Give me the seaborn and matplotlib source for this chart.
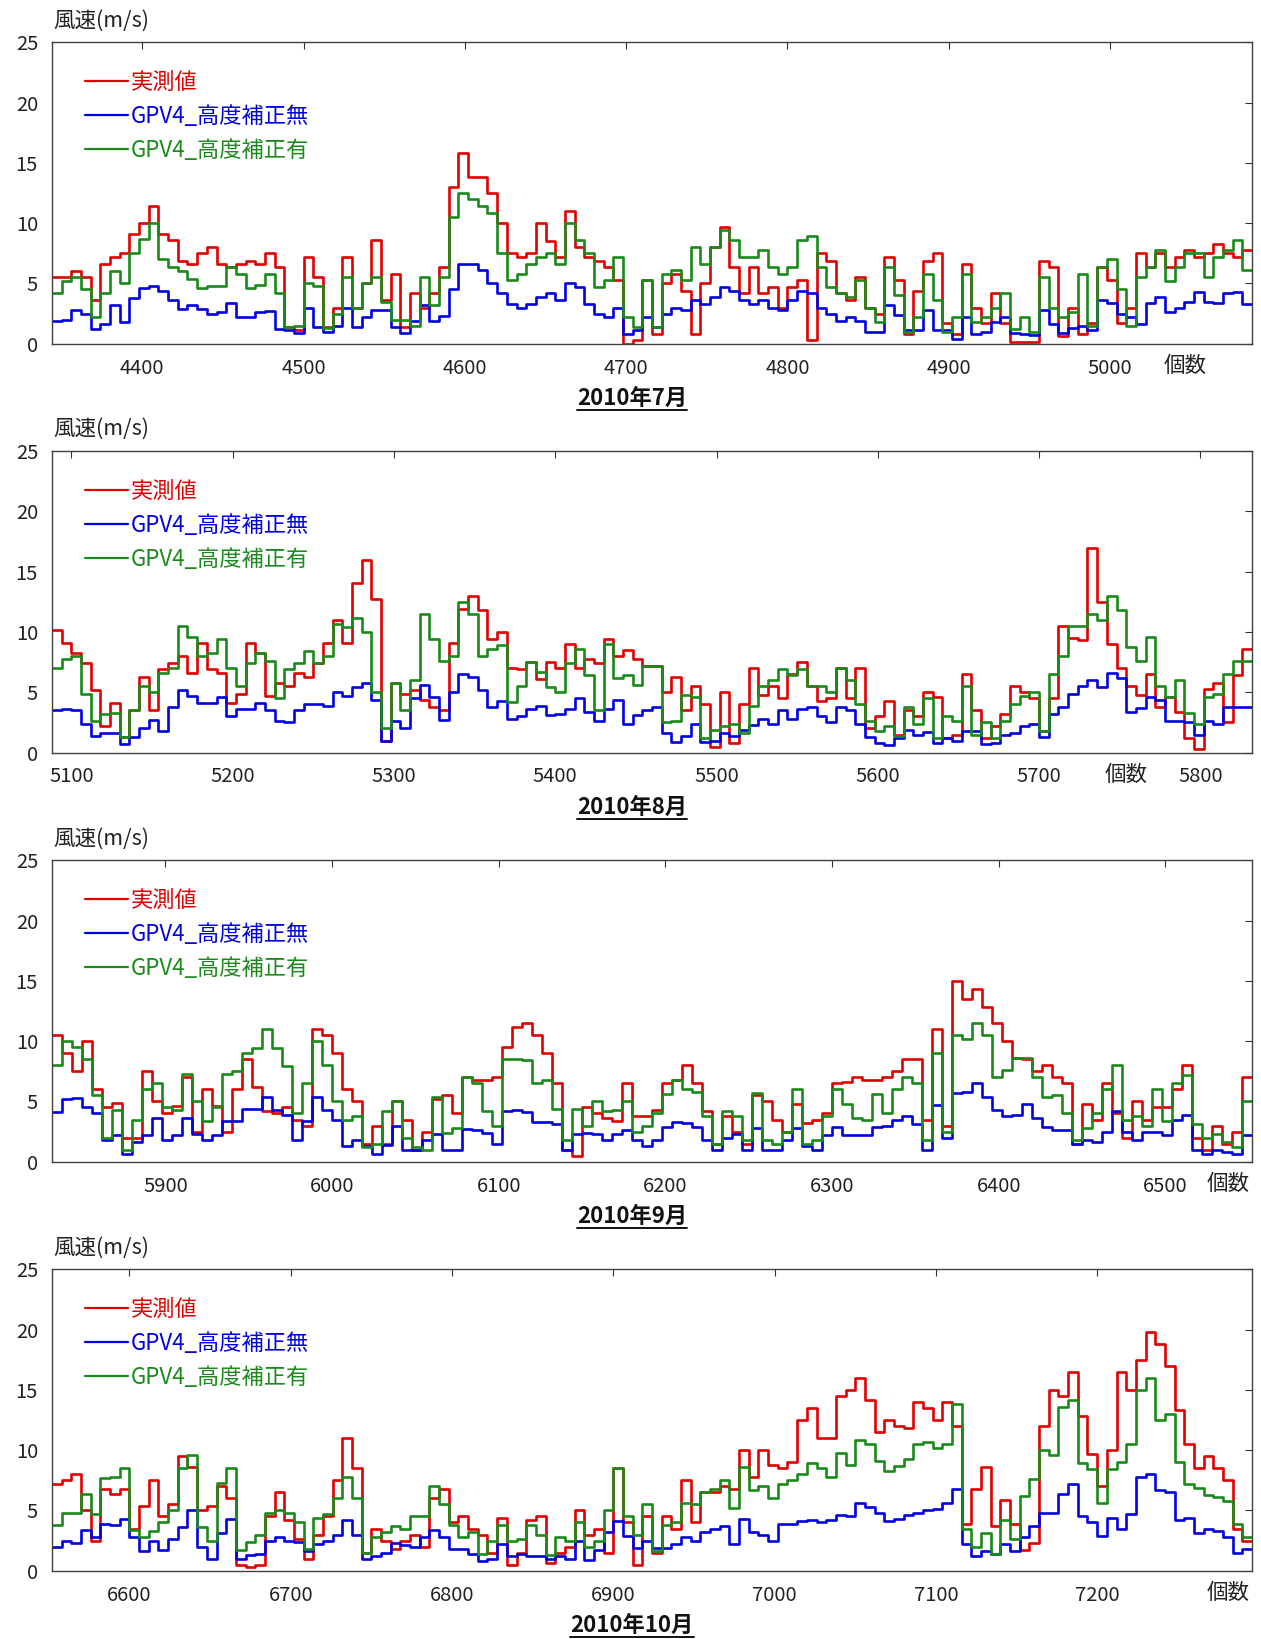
import numpy as np
import pandas as pd
import matplotlib
matplotlib.use("Agg")
import matplotlib.pyplot as plt
from matplotlib.lines import Line2D
import seaborn as sns

# ---------------------------------------------------------------------------
# Wind speed (m/s) sampled every 6 hours; x axis is the running hour index.
# ---------------------------------------------------------------------------
STEP = 6

series_names = ["実測値", "GPV4_高度補正無", "GPV4_高度補正有"]
series_colors = ["#e00000", "#0000e0", "#1a8a1a"]

month_labels = ["2010年7月", "2010年8月", "2010年9月", "2010年10月"]
month_start = [4344, 5088, 5832, 6552]
month_hours = [744, 744, 720, 744]

x_ticks = [
    [4400, 4500, 4600, 4700, 4800, 4900, 5000],
    [5100, 5200, 5300, 5400, 5500, 5600, 5700, 5800],
    [5900, 6000, 6100, 6200, 6300, 6400, 6500],
    [6600, 6700, 6800, 6900, 7000, 7100, 7200],
]
y_ticks = [0, 5, 10, 15, 20, 25]
count_label_pos = [0.944, 0.895, 0.98, 0.98]   # "個数" position, axes fraction

# --- July ---
jul_obs = [
    5.5, 5.5, 6.0, 5.5, 3.6, 6.6, 7.2, 7.5, 9.1, 10.0,
    11.4, 9.1, 8.6, 6.9, 6.6, 7.5, 8.0, 6.6, 6.4, 6.6,
    6.9, 6.6, 7.5, 6.4, 1.4, 1.1, 7.2, 5.5, 1.4, 3.0,
    7.2, 3.0, 5.0, 8.6, 3.6, 5.8, 1.4, 4.2, 3.0, 4.2,
    6.4, 13.0, 15.8,
    13.8, 13.8, 12.5, 10.0, 7.5, 7.2, 7.5, 10.0, 8.5, 7.2,
    11.0, 8.0, 7.2, 6.9, 6.4, 5.3, 0.0, 0.3, 5.3, 0.8,
    5.0, 5.8, 4.4, 0.8, 5.0, 8.0, 9.7, 6.4, 4.2, 6.4,
    4.2, 4.7, 3.0, 4.7, 5.3, 0.3, 7.5, 6.9, 4.2, 3.6,
    5.5,
    3.0, 2.5, 7.2, 5.3, 0.8, 4.4, 6.9, 7.5, 1.7, 0.8,
    6.6, 3.0, 1.7, 4.2, 1.7, 0.1, 0.1, 0.1, 6.9, 6.4,
    0.6, 3.0, 0.8, 1.7, 6.4, 5.3, 1.7, 3.0, 7.5, 6.4,
    7.5, 6.4, 7.2, 7.8, 7.2, 7.5, 8.3, 7.5, 7.2, 7.8,
]
jul_raw = [
    1.9, 2.0, 2.8, 2.5, 1.2, 1.6, 3.2, 1.8, 3.8, 4.6,
    4.8, 4.4, 3.6, 2.9, 3.2, 2.9, 2.5, 2.6, 3.4, 2.2,
    2.2, 2.6, 2.7, 1.2, 1.1, 0.9, 3.0, 1.4, 1.0, 1.5,
    3.0, 1.4, 2.2, 2.8, 2.8, 1.4, 0.9, 1.9, 3.2, 1.9,
    2.3, 4.5, 6.6,
    6.6, 6.1, 5.0, 4.2, 3.3, 3.0, 3.3, 3.9, 4.2, 3.6,
    5.0, 4.7, 3.3, 2.5, 2.2, 3.0, 0.8, 1.1, 2.2, 1.4,
    2.5, 3.0, 2.8, 3.6, 3.3, 3.9, 4.7, 4.4, 3.6, 3.3,
    3.6, 3.0, 2.8, 3.6, 4.4, 4.2, 3.0, 2.5, 1.9, 2.2,
    1.9,
    1.0, 1.0, 3.2, 2.4, 1.1, 1.1, 2.8, 1.1, 1.1, 0.4,
    2.2, 0.8, 1.0, 1.8, 2.2, 0.9, 0.8, 0.7, 2.8, 1.6,
    0.9, 1.3, 1.5, 1.1, 3.6, 3.4, 2.5, 2.2, 1.6, 3.4,
    3.9, 2.6, 3.0, 3.5, 4.3, 3.5, 3.4, 4.2, 4.3, 3.3,
]
jul_adj = [
    4.2, 5.2, 5.5, 4.5, 2.2, 4.2, 6.0, 5.0, 7.5, 8.7,
    10.0, 7.0, 6.4, 6.0, 5.4, 4.6, 4.8, 4.8, 6.4, 5.8,
    4.6, 4.9, 5.8, 4.2, 1.4, 1.5, 5.0, 4.8, 1.3, 2.5,
    5.5, 3.0, 5.0, 5.5, 3.5, 2.0, 2.0, 1.5, 5.5, 3.2,
    5.5, 10.5, 12.5,
    12.0, 11.4, 10.8, 7.5, 5.3, 5.8, 6.6, 7.2, 7.5, 6.6,
    10.0, 8.6, 7.5, 4.7, 5.3, 7.2, 2.2, 1.4, 5.3, 1.4,
    5.8, 6.1, 5.3, 8.0, 6.6, 8.0, 9.4, 8.6, 7.2, 7.2,
    7.8, 6.4, 5.8, 6.4, 8.6, 8.9, 6.4, 4.7, 4.2, 3.9,
    5.3,
    3.0, 1.8, 6.4, 4.0, 1.0, 2.2, 5.8, 3.6, 1.0, 2.2,
    5.8, 1.8, 2.2, 3.0, 4.2, 1.2, 2.2, 1.0, 5.5, 3.0,
    2.2, 2.6, 5.8, 1.5, 6.4, 7.0, 4.5, 1.5, 5.5, 6.4,
    7.8, 5.2, 6.4, 7.5, 7.5, 5.5, 7.2, 7.8, 8.6, 6.1,
]

# --- August ---
aug_obs = [
    10.2, 9.1, 8.3, 7.4, 5.2, 2.2, 4.1, 1.3, 3.5, 6.3,
    3.5, 6.9, 7.4, 8.0, 6.6, 9.1, 6.9, 6.6, 4.1, 4.9,
    9.1, 8.3, 4.7, 5.8, 5.5, 6.6, 6.3, 7.4, 9.1, 11.0,
    9.1, 14.1, 16.0, 12.7, 1.0, 5.8, 4.9, 5.2, 4.4, 3.8,
    3.5, 9.1, 11.9,
    13.0, 11.8, 9.4, 10.0, 7.0, 6.9, 7.5, 6.1, 7.5, 7.0,
    9.0, 7.0, 7.8, 7.4, 9.4, 8.0, 8.5, 7.8, 7.2, 7.2,
    5.0, 6.3, 3.5, 5.5, 4.0, 0.5, 5.0, 0.8, 4.0, 7.0,
    4.8, 5.5, 4.5, 6.5, 7.5, 5.5, 4.3, 4.5, 7.0, 4.5,
    7.0,
    2.0, 3.0, 4.3, 1.5, 3.5, 3.0, 5.0, 4.6, 1.2, 1.5,
    6.5, 3.5, 1.2, 2.2, 3.2, 5.5, 5.0, 4.5, 1.8, 4.5,
    10.5, 9.5, 9.3, 17.0, 12.5, 9.0, 7.0, 5.5, 4.8, 6.5,
    3.8, 4.6, 3.4, 1.2, 0.3, 5.3, 5.8, 2.5, 6.4, 8.6,
]
aug_raw = [
    3.5, 3.6, 3.5, 2.4, 1.4, 1.6, 1.6, 0.7, 1.3, 2.0,
    2.7, 1.8, 3.8, 5.2, 4.7, 4.1, 4.1, 4.6, 3.0, 3.6,
    3.6, 4.1, 3.5, 2.6, 2.5, 3.5, 4.0, 4.0, 3.9, 5.0,
    4.7, 5.4, 5.8, 4.4, 1.0, 2.6, 2.0, 4.5, 5.6, 4.6,
    2.7, 5.0, 6.5,
    6.3, 5.2, 3.8, 4.3, 2.8, 3.0, 3.6, 3.9, 3.1, 3.2,
    3.6, 4.5, 3.4, 2.6, 3.6, 4.4, 2.4, 3.1, 3.5, 3.8,
    1.6, 0.9, 1.4, 2.4, 0.9, 1.0, 1.6, 1.4, 1.9, 2.3,
    2.8, 2.4, 3.5, 2.8, 3.6, 3.8, 3.0, 2.5, 3.8, 3.5,
    2.4,
    1.3, 0.8, 0.6, 1.2, 1.9, 1.5, 1.7, 0.8, 1.2, 1.0,
    1.8, 1.8, 0.7, 0.8, 1.5, 1.6, 2.2, 2.4, 1.3, 3.2,
    3.8, 4.9, 5.5, 6.0, 5.4, 6.6, 6.2, 3.4, 3.7, 4.6,
    4.4, 2.6, 2.6, 2.5, 1.5, 2.6, 2.4, 3.8, 3.8, 3.8,
]
aug_adj = [
    7.0, 7.8, 8.0, 4.9, 2.6, 3.2, 3.3, 1.3, 3.5, 5.5,
    5.0, 6.6, 7.0, 10.5, 9.6, 8.0, 8.3, 9.4, 7.0, 5.5,
    7.4, 8.3, 7.6, 4.5, 6.9, 7.4, 8.4, 7.4, 8.0, 10.7,
    10.4, 11.2, 10.0, 5.0, 2.0, 5.8, 3.5, 6.0, 11.5, 9.4,
    7.6, 8.0, 12.5,
    11.5, 8.0, 8.6, 8.9, 4.2, 5.5, 7.5, 6.7, 5.4, 5.0,
    7.4, 8.6, 6.4, 3.5, 9.0, 6.2, 6.4, 5.6, 7.2, 7.2,
    2.5, 2.6, 4.8, 4.6, 1.2, 1.9, 2.2, 2.4, 1.6, 3.9,
    5.5, 6.0, 6.9, 6.4, 6.9, 5.5, 5.5, 5.0, 7.0, 6.0,
    4.0,
    2.6, 1.8, 2.2, 1.4, 3.8, 2.4, 4.5, 1.2, 3.0, 2.6,
    5.5, 1.5, 2.5, 1.2, 2.6, 4.0, 4.7, 5.0, 1.8, 6.5,
    8.0, 10.5, 10.5, 11.5, 11.0, 13.0, 11.8, 8.8, 7.6, 9.6,
    5.5, 4.6, 6.0, 3.3, 2.4, 4.6, 4.9, 6.5, 7.6, 7.6,
]

# --- September ---
sep_obs = [
    10.5, 9.0, 7.5, 10.0, 6.0, 4.5, 4.9, 2.0, 2.0, 7.5,
    5.0, 4.0, 4.6, 7.0, 2.5, 6.0, 4.6, 2.5, 6.0, 8.5,
    6.2, 4.2, 4.0, 4.5, 3.5, 3.0, 11.0, 10.5, 9.0, 6.0,
    5.0, 1.5, 3.0, 1.5, 5.0, 3.5, 1.0, 2.5, 5.2, 5.5,
    4.0, 7.0,
    6.8, 6.8, 7.0, 9.5, 11.2, 11.5, 10.5, 9.0, 6.5, 1.0,
    0.5, 4.5, 4.0, 3.6, 3.4, 6.5, 3.8, 3.8, 4.3, 6.5,
    6.8, 8.0, 6.5, 4.2, 1.5, 3.8, 2.5, 1.5, 5.5, 5.0,
    3.5, 2.5, 4.8, 3.2, 3.5, 4.0, 6.5, 6.6, 7.0,
    6.8, 6.8, 7.0, 7.5, 8.5, 8.5, 3.5, 11.0, 3.0, 15.0,
    13.5, 14.3, 12.8, 11.5, 10.0, 8.6, 8.5, 7.5, 8.0, 7.0,
    6.5, 1.5, 4.8, 3.5, 6.5, 4.0, 2.0, 5.0, 3.5, 4.5,
    4.5, 6.0, 8.0, 2.0, 1.0, 3.0, 1.5, 2.5, 7.0,
]
sep_raw = [
    4.1, 5.2, 5.3, 4.5, 4.0, 1.8, 2.2, 0.6, 1.6, 2.2,
    3.6, 1.8, 2.2, 3.6, 2.3, 1.8, 2.2, 3.4, 3.4, 4.4,
    4.4, 5.4, 4.3, 3.9, 1.8, 3.4, 5.4, 4.3, 3.5, 1.3,
    1.8, 1.3, 0.6, 1.4, 3.0, 1.0, 1.0, 1.8, 2.3, 1.0,
    1.0, 2.7,
    2.6, 2.4, 1.5, 4.2, 4.3, 4.1, 3.3, 3.3, 3.1, 1.0,
    2.3, 2.4, 2.3, 1.8, 2.3, 2.6, 1.8, 1.3, 1.8, 2.9,
    3.3, 3.2, 2.9, 1.8, 1.0, 2.0, 2.3, 1.0, 2.8, 1.0,
    1.0, 1.8, 2.8, 1.3, 1.0, 2.2, 2.9, 2.2, 2.2,
    2.2, 2.9, 3.0, 3.5, 3.8, 3.1, 1.0, 4.7, 2.0, 5.7,
    5.8, 6.5, 5.4, 4.3, 3.8, 3.9, 4.8, 3.6, 2.9, 2.6,
    2.6, 1.5, 1.8, 1.6, 2.5, 4.2, 2.5, 1.8, 2.5, 2.5,
    2.2, 3.5, 3.9, 1.0, 0.6, 1.0, 0.8, 0.6, 2.2,
]
sep_adj = [
    8.0, 10.0, 9.5, 8.5, 5.5, 2.0, 4.3, 1.0, 3.5, 6.0,
    6.5, 4.5, 4.3, 7.3, 5.0, 3.4, 4.5, 7.3, 7.5, 9.0,
    9.4, 11.0, 9.4, 7.9, 4.0, 6.5, 10.0, 8.0, 5.0, 3.5,
    3.8, 1.2, 1.5, 4.2, 5.0, 2.0, 1.2, 1.0, 5.4, 2.4,
    2.8, 7.0,
    6.5, 4.2, 3.0, 8.5, 8.5, 8.4, 6.5, 6.8, 4.4, 1.8,
    4.4, 3.0, 5.0, 4.2, 4.3, 5.0, 2.5, 3.0, 4.0, 5.6,
    6.8, 6.0, 5.8, 3.8, 1.5, 4.2, 3.8, 1.8, 5.7, 1.8,
    1.5, 2.5, 6.0, 1.5, 1.8, 3.8, 6.0, 4.8, 3.6,
    3.5, 5.6, 4.0, 6.0, 7.0, 6.5, 1.8, 9.0, 2.5, 10.5,
    10.2, 11.5, 10.5, 7.0, 7.6, 8.6, 8.6, 7.0, 5.4, 5.5,
    4.0, 1.8, 2.8, 4.0, 6.0, 8.0, 3.5, 3.8, 3.0, 6.0,
    3.4, 6.5, 7.2, 3.1, 2.0, 2.3, 1.6, 1.2, 5.0,
]

# --- October ---
oct_obs = [
    7.2, 7.5, 8.0, 5.0, 2.5, 6.8, 6.4, 6.8, 3.5, 5.4,
    7.5, 4.5, 5.5, 9.5, 8.6, 5.0, 5.4, 7.0, 6.0, 0.5,
    0.3, 0.5, 4.5, 6.5, 4.2, 2.6, 1.0, 3.0, 4.5, 7.5,
    11.0, 8.5, 1.5, 3.5, 2.5, 1.8, 2.5, 3.0, 2.0, 6.0,
    6.8, 4.0, 4.5,
    3.5, 3.0, 1.5, 4.4, 0.5, 1.5, 4.2, 4.5, 0.6, 1.5,
    2.0, 5.0, 3.0, 3.5, 1.5, 8.5, 4.0, 0.5, 4.5, 1.5,
    4.5, 3.5, 7.5, 4.0, 6.5, 6.5, 7.0, 6.8, 10.0, 7.8,
    10.0, 8.8, 8.5, 9.0, 12.5, 13.5, 11.0, 11.0, 14.5, 15.0,
    16.0,
    14.2, 11.5, 12.5, 12.0, 11.8, 14.0, 13.5, 12.5, 14.0, 12.0,
    3.9, 6.8, 8.6, 3.7, 5.9, 3.9, 1.7, 2.3, 12.0, 15.0,
    14.5, 16.5, 12.8, 9.7, 7.0, 10.0, 16.5, 15.0, 17.5, 19.8,
    18.8, 17.0, 13.3, 10.5, 8.5, 9.5, 8.5, 7.5, 3.5, 2.5,
]
oct_raw = [
    2.0, 2.5, 2.3, 3.4, 2.8, 3.9, 3.8, 4.3, 2.8, 1.6,
    2.5, 1.7, 2.6, 3.6, 5.0, 2.0, 1.0, 3.1, 4.3, 1.0,
    1.3, 1.4, 2.5, 2.8, 2.5, 2.4, 1.6, 2.2, 2.5, 3.0,
    4.2, 3.0, 1.0, 1.2, 1.5, 2.3, 2.1, 2.0, 2.8, 3.4,
    2.8, 1.8, 1.8,
    1.4, 0.8, 1.0, 2.2, 1.2, 1.4, 1.2, 1.2, 1.0, 1.2,
    1.0, 2.5, 0.9, 1.7, 3.2, 4.1, 2.9, 1.9, 2.5, 1.9,
    1.9, 2.2, 2.8, 2.5, 3.2, 3.5, 3.7, 2.2, 4.3, 3.2,
    3.0, 2.5, 3.9, 3.9, 4.1, 4.2, 4.0, 4.2, 4.6, 4.5,
    5.6,
    5.3, 4.8, 4.1, 4.3, 4.6, 4.8, 5.0, 5.1, 5.6, 6.8,
    2.2, 1.2, 1.6, 1.4, 2.2, 1.6, 2.8, 3.7, 4.8, 4.8,
    6.4, 7.2, 4.5, 4.0, 2.9, 4.4, 3.5, 4.7, 7.8, 8.0,
    6.7, 6.5, 4.2, 4.4, 3.1, 3.5, 3.3, 2.8, 1.5, 1.8,
]
oct_adj = [
    3.8, 4.8, 4.8, 6.4, 4.7, 7.7, 7.8, 8.5, 3.4, 2.8,
    3.3, 4.0, 5.0, 8.5, 9.6, 3.6, 2.5, 7.3, 8.5, 1.7,
    2.4, 3.0, 4.8, 5.0, 4.8, 4.0, 1.8, 4.4, 4.7, 6.0,
    7.8, 6.0, 1.5, 2.8, 3.2, 3.7, 3.5, 4.5, 4.5, 7.0,
    5.5, 3.8, 2.8,
    3.2, 1.4, 2.5, 3.8, 2.5, 2.6, 3.8, 3.0, 1.3, 2.8,
    2.5, 4.0, 2.0, 2.5, 5.0, 8.5, 4.5, 3.0, 5.5, 1.6,
    3.8, 4.0, 5.6, 5.5, 6.5, 6.8, 7.5, 5.2, 8.6, 6.7,
    7.0, 6.0, 7.2, 7.5, 8.0, 8.9, 8.5, 7.8, 9.8, 8.8,
    10.8,
    10.5, 9.1, 8.3, 8.7, 9.3, 10.5, 10.7, 10.2, 10.5, 13.8,
    3.5, 2.0, 3.1, 1.4, 4.2, 2.6, 6.2, 7.6, 10.0, 9.6,
    13.6, 14.2, 8.9, 8.4, 5.6, 8.4, 9.0, 10.5, 15.0, 16.0,
    12.5, 13.0, 9.0, 7.2, 6.9, 6.3, 6.1, 5.8, 3.9, 2.8,
]

month_values = [
    (jul_obs, jul_raw, jul_adj),
    (aug_obs, aug_raw, aug_adj),
    (sep_obs, sep_raw, sep_adj),
    (oct_obs, oct_raw, oct_adj),
]


def month_frame(start, series_values):
    parts = []
    for name, vals in zip(series_names, series_values):
        vals = list(vals) + [vals[-1]]          # close the last step
        hours = start + STEP * np.arange(len(vals))
        parts.append(pd.DataFrame({"hour": hours, "speed": vals, "series": name}))
    return pd.concat(parts, ignore_index=True)


# ---------------------------------------------------------------------------
# Figure layout (pixel based, 100 dpi)
# ---------------------------------------------------------------------------
sns.set_style("white")
plt.rcParams["font.family"] = ["Noto Sans CJK JP", "DejaVu Sans"]
plt.rcParams["axes.unicode_minus"] = False

W, H = 1261, 1639
fig = plt.figure(figsize=(W / 100, H / 100), dpi=100)
fig.patch.set_facecolor("white")

AX_LEFT, AX_W, AX_H = 52, 1200, 301.4
AX_TOP = [42.3, 451.2, 860.3, 1269.3]
PX = 72 / 100  # points per pixel

TEXT_COLOR = "#222222"
LINE_W = 1.9

month_label_artists = []
for i in range(4):
    top = AX_TOP[i]
    ax = fig.add_axes([AX_LEFT / W, 1 - (top + AX_H) / H, AX_W / W, AX_H / H])
    df = month_frame(month_start[i], month_values[i])
    sns.lineplot(
        data=df, x="hour", y="speed", hue="series",
        hue_order=series_names, palette=series_colors,
        drawstyle="steps-post", linewidth=LINE_W, estimator=None,
        legend=False, ax=ax,
    )

    ax.set_xlim(month_start[i], month_start[i] + month_hours[i])
    ax.set_ylim(0, 25)
    ax.set_xticks(x_ticks[i])
    ax.set_yticks(y_ticks)
    ax.set_xlabel("")
    ax.set_ylabel("")
    ax.tick_params(direction="in", length=7 * PX, width=0.8, top=True,
                   right=True, labelsize=14.5, pad=10, colors="#333333",
                   labelcolor=TEXT_COLOR)
    for sp in ax.spines.values():
        sp.set_color("#404040")
        sp.set_linewidth(1.0)

    leg = ax.legend(
        handles=ax.get_lines()[:3], labels=series_names,
        loc="upper left", bbox_to_anchor=(0.0275, 0.906),
        frameon=False, fontsize=16, handlelength=1.95, handletextpad=0.1,
        labelspacing=0.5, borderpad=0, borderaxespad=0,
        labelcolor="linecolor",
    )
    for h in leg.legend_handles:
        h.set_linewidth(1.6)

    # axis captions
    ax.annotate("風速(m/s)", xy=(0, 1), xycoords="axes fraction",
                xytext=(1 * PX, 22 * PX), textcoords="offset points",
                ha="left", va="center", fontsize=15.5, color=TEXT_COLOR)
    ax.annotate("個数", xy=(count_label_pos[i], 0), xycoords="axes fraction",
                xytext=(0, -22 * PX), textcoords="offset points",
                ha="center", va="center", fontsize=15.5, color=TEXT_COLOR)

    y_lab = 1 - (top + AX_H + 55) / H
    t = fig.text(0.5012, y_lab, month_labels[i], ha="center", va="center",
                 fontsize=16, fontweight="bold", color="#111111")
    month_label_artists.append((t, y_lab))

# underline the month captions
fig.canvas.draw()
renderer = fig.canvas.get_renderer()
for t, y_lab in month_label_artists:
    bb = t.get_window_extent(renderer=renderer)
    y_line = y_lab - 11.5 / H
    fig.add_artist(Line2D([bb.x0 / W, bb.x1 / W], [y_line, y_line],
                          transform=fig.transFigure, color="#111111", lw=1.4))

fig.savefig("out.png", dpi=100, facecolor="white")
